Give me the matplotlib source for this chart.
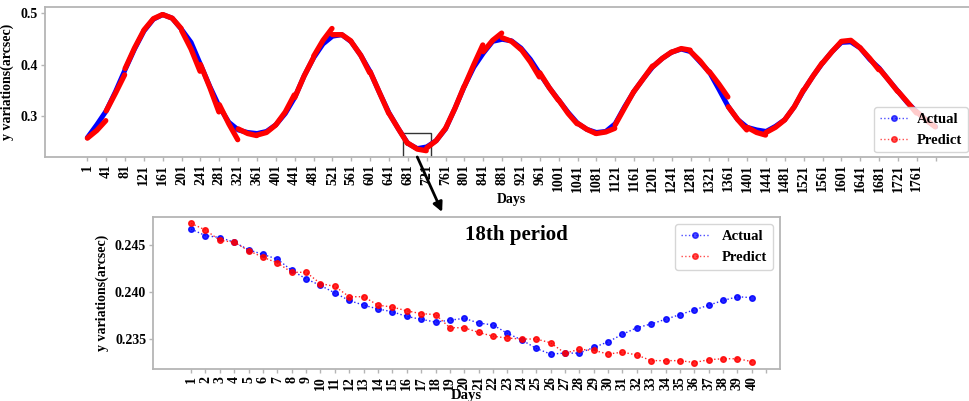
import matplotlib
matplotlib.use('Agg')
from matplotlib import pyplot as plt
from matplotlib.lines import Line2D
from matplotlib.patches import Rectangle
import numpy as np

# Весь ряд: фактические значения через каждые 20 дней
actual_all = [
    0.258, 0.283, 0.310, 0.348, 0.390, 0.430, 0.465, 0.488, 0.497, 0.490,
    0.468, 0.443, 0.400, 0.357, 0.318, 0.288, 0.273, 0.268, 0.266, 0.270,
    0.283, 0.305, 0.336, 0.378, 0.413, 0.440, 0.455, 0.458, 0.444, 0.418,
    0.386, 0.345, 0.306, 0.275, 0.2467, 0.2367, 0.240, 0.252, 0.275, 0.315,
    0.358, 0.395, 0.422, 0.445, 0.449, 0.446, 0.432, 0.410, 0.382, 0.355,
    0.331, 0.307, 0.286, 0.274, 0.268, 0.270, 0.285, 0.318, 0.348, 0.373,
    0.396, 0.412, 0.424, 0.430, 0.425, 0.405, 0.385, 0.352, 0.318, 0.293,
    0.278, 0.273, 0.270, 0.280, 0.293, 0.318, 0.350, 0.378, 0.403, 0.425,
    0.443, 0.444, 0.432, 0.410, 0.393, 0.370, 0.348, 0.326, 0.308, 0.292,
    0.279,
]
actual_step = 20

# Прогноз по периодам (40 дней): начало, середина, конец периода
pred_start = [
    0.257, 0.310, 0.392, 0.467, 0.497, 0.466, 0.400, 0.322, 0.275, 0.263,
    0.283, 0.336, 0.416, 0.458, 0.444, 0.386, 0.305, 0.2473, 0.238, 0.276,
    0.358, 0.425, 0.452, 0.430, 0.384, 0.331, 0.286, 0.266, 0.283, 0.348,
    0.396, 0.424, 0.425, 0.386, 0.318, 0.278, 0.268, 0.293, 0.350, 0.403,
    0.445, 0.432, 0.392, 0.348, 0.308,
]
pred_mid = [
    0.272, 0.345, 0.432, 0.489, 0.490, 0.430, 0.355, 0.285, 0.266, 0.268,
    0.308, 0.378, 0.447, 0.458, 0.418, 0.345, 0.275, 0.2357, 0.252, 0.315,
    0.400, 0.447, 0.445, 0.405, 0.355, 0.305, 0.274, 0.269, 0.316, 0.373,
    0.412, 0.431, 0.407, 0.362, 0.293, 0.268, 0.278, 0.318, 0.378, 0.425,
    0.447, 0.412, 0.370, 0.327, 0.292,
]
pred_end = [
    0.291, 0.380, 0.465, 0.497, 0.470, 0.387, 0.308, 0.254, 0.262, 0.282,
    0.341, 0.412, 0.470, 0.446, 0.384, 0.306, 0.247, 0.2326, 0.275, 0.357,
    0.438, 0.461, 0.430, 0.376, 0.331, 0.285, 0.266, 0.276, 0.347, 0.397,
    0.424, 0.428, 0.385, 0.337, 0.273, 0.263, 0.292, 0.350, 0.403, 0.444,
    0.433, 0.390, 0.348, 0.306, 0.279,
]
period = 40
zoom_period = 17  # 18-й период

# 18-й период подробно
actual_18 = [
    0.2467, 0.2460, 0.2458, 0.2453, 0.2445, 0.2440, 0.2435, 0.2423, 0.2414, 0.2407,
    0.2399, 0.2391, 0.2386, 0.2382, 0.2379, 0.2374, 0.2371, 0.2368, 0.2370, 0.2372,
    0.2367, 0.2365, 0.2356, 0.2349, 0.2340, 0.2334, 0.2335, 0.2335, 0.2341, 0.2347,
    0.2355, 0.2362, 0.2366, 0.2371, 0.2376, 0.2381, 0.2386, 0.2391, 0.2395, 0.2394,
]
predict_18 = [
    0.2473, 0.2466, 0.2455, 0.2453, 0.2444, 0.2437, 0.2431, 0.2421, 0.2421, 0.2409,
    0.2406, 0.2395, 0.2395, 0.2386, 0.2384, 0.2380, 0.2377, 0.2376, 0.2362, 0.2362,
    0.2357, 0.2353, 0.2351, 0.2350, 0.2350, 0.2346, 0.2335, 0.2339, 0.2338, 0.2334,
    0.2336, 0.2333, 0.2327, 0.2327, 0.2327, 0.2325, 0.2328, 0.2329, 0.2329, 0.2326,
]

FONT = 'Liberation Serif'
GRAY = '#b5b5b5'


def style_axes(ax):
    for sp in ax.spines.values():
        sp.set_color(GRAY)
        sp.set_linewidth(1.3)
    ax.tick_params(colors=GRAY, length=3, width=1, pad=2, labelcolor='black')
    for lab in ax.get_xticklabels() + ax.get_yticklabels():
        lab.set_fontfamily(FONT)
        lab.set_fontweight('bold')
        lab.set_fontsize(10)


def legend_handles():
    return [
        Line2D([], [], color='blue', ls=':', lw=1, alpha=0.7, marker='o',
               markersize=4, markerfacecolor='blue', markeredgecolor='blue'),
        Line2D([], [], color='red', ls=':', lw=1, alpha=0.7, marker='o',
               markersize=4, markerfacecolor='red', markeredgecolor='red'),
    ]


def draw():
    fig = plt.figure(figsize=(9.69, 4.01), dpi=100)
    ax1 = fig.add_axes([0.0464, 0.6085, 0.963, 0.374])
    ax2 = fig.add_axes([0.158, 0.0798, 0.647, 0.379])

    # верхний график
    days = np.arange(len(actual_all)) * actual_step
    ax1.plot(days, actual_all, color='blue', lw=3.6, solid_capstyle='round')
    for k in range(len(pred_start)):
        xs = [k * period, k * period + period // 2, k * period + period - 1]
        ys = [pred_start[k], pred_mid[k], pred_end[k]]
        ax1.plot(xs, ys, color='red', lw=3.8, solid_capstyle='round')

    ax1.set_xlim(-90, 1890)
    ax1.set_ylim(0.2204, 0.5117)
    ticks = np.arange(0, 1801, 40)
    ax1.set_xticks(ticks)
    ax1.set_xticklabels([str(t + 1) for t in ticks[:-1]] + [''], rotation=90)
    ax1.set_yticks([0.3, 0.4, 0.5])
    ax1.set_yticklabels(['0.3', '0.4', '0.5'])
    style_axes(ax1)
    ax1.set_xlabel('Days', fontfamily=FONT, fontweight='bold', fontsize=10, labelpad=1)
    ax1.set_ylabel('y variations(arcsec)', fontfamily=FONT, fontweight='bold',
                   fontsize=10, labelpad=5)
    ax1.legend(legend_handles(), ['Actual', 'Predict'], loc='lower right',
               bbox_to_anchor=(0.989, 0.03), borderaxespad=0,
               handlelength=1.9, handletextpad=0.6,
               prop={'family': FONT, 'weight': 'bold', 'size': 10.5})

    # рамка вокруг 18-го периода
    x0 = zoom_period * period - 10
    rect = Rectangle((x0, 0.21), period + 19, 0.2676 - 0.21, fill=False,
                     edgecolor='#333333', lw=1, clip_on=True)
    ax1.add_patch(rect)

    # нижний график
    n = np.arange(1, len(actual_18) + 1)
    ax2.plot(n, actual_18, color='blue', ls=':', lw=1, marker='o', markersize=4,
             markerfacecolor='blue', markeredgecolor='blue', alpha=0.85)
    ax2.plot(n, predict_18, color='red', ls=':', lw=1, marker='o', markersize=4,
             markerfacecolor='red', markeredgecolor='red', alpha=0.85)
    ax2.set_xlim(-1.64, 41.96)
    ax2.set_ylim(0.23181, 0.24798)
    ax2.set_xticks(np.arange(1, len(n) + 2))
    ax2.set_xticklabels([str(i) for i in n] + [''], rotation=90)
    ax2.set_yticks([0.235, 0.240, 0.245])
    ax2.set_yticklabels(['0.235', '0.240', '0.245'])
    style_axes(ax2)
    ax2.set_xlabel('Days', fontfamily=FONT, fontweight='bold', fontsize=10.5, labelpad=-1)
    ax2.set_ylabel('y variations(arcsec)', fontfamily=FONT, fontweight='bold',
                   fontsize=10, labelpad=4)
    ax2.text(0.58, 0.88, '18th period', transform=ax2.transAxes, ha='center',
             va='center', fontfamily=FONT, fontweight='bold', fontsize=15)
    ax2.legend(legend_handles(), ['Actual', 'Predict'], loc='upper right',
               prop={'family': FONT, 'weight': 'bold', 'size': 10.5})

    # стрелка от рамки к нижнему графику
    ax2.annotate('', xy=(0.461, 1.033), xycoords='axes fraction',
                 xytext=(x0 + 30, 0.2204), textcoords=ax1.transData,
                 arrowprops=dict(arrowstyle='-|>', color='black', lw=2,
                                 mutation_scale=14, shrinkA=0, shrinkB=0),
                 annotation_clip=False)

    fig.savefig('out.png', dpi=100)


def main():
    draw()


if __name__ == '__main__':
    main()
